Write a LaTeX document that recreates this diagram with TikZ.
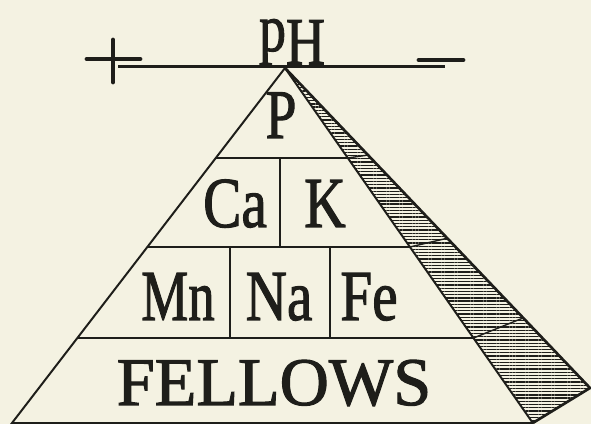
\documentclass[tikz,border=0pt]{standalone}
\usepackage{fontspec}
\setmainfont{Liberation Serif}[FakeBold=1.6]
\usepackage{tikz}
\usetikzlibrary{calc, patterns.meta}
\definecolor{paper}{HTML}{F4F2E2}
\definecolor{ink}{HTML}{1E1E1A}
\tikzset{
  edge/.style={draw=ink, line width=1.4pt, line join=miter},
  rim/.style={draw=ink, line width=1.9pt, line join=miter},
  bar/.style={draw=ink, line width=2.2pt},
  sign/.style={draw=ink, line width=3.4pt, line cap=round},
  hatch/.style={pattern={Lines[angle=0,distance=2.3pt,line width=0.9pt]}, pattern color=ink},
  elem/.style={font=\fontsize{51}{51}\selectfont, text=ink, anchor=base,
    inner sep=0pt, xscale=0.8},
  tag/.style={font=\fontsize{48.5}{48.5}\selectfont, text=ink, anchor=base, inner sep=0pt}
}
\begin{document}
\begin{tikzpicture}
  \useasboundingbox (0,0) rectangle (14.775,10.6);
  \fill[paper] (0,0) rectangle (14.775,10.6);
  % the scale
  \draw[bar] (2.95,8.93) -- (11.125,8.93);
  \draw[sign] (2.175,9.125) -- (3.5,9.125);
  \draw[sign] (2.825,9.6) -- (2.825,8.55);
  \draw[sign] (10.475,9.1) -- (11.575,9.1);
  \node[elem, font=\fontsize{48}{48}\selectfont] (ph) at (7.3,8.99) {\raisebox{.2em}{p}H};
  % the pyramid
  \coordinate (apex) at (7.125,8.9);
  \coordinate (bl) at (0.3,0.025);
  \coordinate (br) at (13.32,0.025);
  \coordinate (sc) at (14.75,0.9);
  \path[hatch] (apex) -- (br) -- (sc) -- cycle;
  \draw[rim] (apex) -- (sc) -- (br);
  \draw[edge] (br) -- (apex) -- (bl) -- (br);
  \foreach \t/\s [count=\i] in {0.2535/0.272, 0.5042/0.532, 0.7606/0.781} {
    \coordinate (l\i) at ($(apex)!\t!(bl)$);
    \coordinate (r\i) at ($(apex)!\t!(br)$);
    \coordinate (o\i) at ($(apex)!\s!(sc)$);
    \draw[edge] (l\i) -- (r\i);
    \draw[edge, line width=1pt] (r\i) -- (o\i);
  }
  \draw[edge] (7.0,6.65) -- (7.0,4.425);
  \draw[edge] (5.75,4.425) -- (5.75,2.15);
  \draw[edge] (8.25,4.425) -- (8.25,2.15);
  % labels
  \node[elem, font=\fontsize{49.5}{49.5}\selectfont] (p) at (7.025,7.15) {P};
  \node[elem] (ca) at (5.875,4.925) {Ca};
  \node[elem] (k) at (8.125,4.925) {K};
  \node[elem, xscale=0.92] (mn) at (4.45,2.6) {Mn};
  \node[elem] (na) at (6.975,2.6) {Na};
  \node[elem] (fe) at (9.225,2.6) {Fe};
  \node[tag] (fellows) at (6.85,0.475) {FELLOWS};
\end{tikzpicture}
\end{document}
